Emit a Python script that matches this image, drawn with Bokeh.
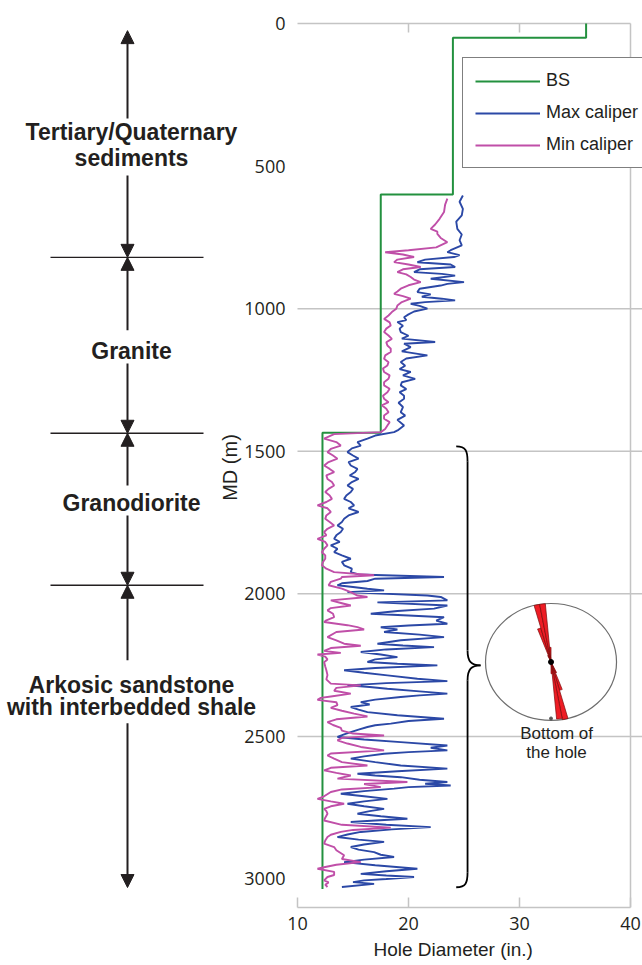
from math import sin, cos, radians, pi
from bokeh.plotting import figure
from bokeh.models import (Range1d, FixedTicker, Legend, LegendItem,
                          Arrow, NormalHead, Title)
from bokeh.core.properties import value
from bokeh.embed import file_html
from bokeh.resources import INLINE

# ---------------- data ----------------
md_ticks = [0, 500, 1000, 1500, 2000, 2500, 3000]
diam_ticks = [10, 20, 30, 40]
grid_depths = [1000, 1500, 2000, 2500]

# Bit size (step curve)
bs_depth = [0, 50, 50, 600, 600, 1435, 1435, 3035]
bs_diam = [36, 36, 24, 24, 17.5, 17.5, 12.25, 12.25]

# Max caliper
max_depth = [603, 625, 650, 673, 695, 720, 740, 760, 778, 795,
             802, 812, 819, 828, 837, 845, 854, 862, 872, 878,
             884, 895, 907, 913, 919, 930, 942, 950, 958, 965,
             971, 977, 983, 990, 1000, 1010, 1020, 1030, 1040, 1047,
             1060, 1070, 1082, 1095, 1105, 1117, 1123, 1135, 1150, 1164,
             1175, 1187, 1200, 1212, 1222, 1234, 1246, 1258, 1269, 1282,
             1293, 1305, 1316, 1330, 1345, 1363, 1375, 1390, 1410, 1425,
             1433, 1445, 1456, 1468, 1480, 1490, 1503, 1515, 1526, 1538,
             1550, 1562, 1573, 1585, 1597, 1608, 1620, 1632, 1643, 1655,
             1667, 1678, 1690, 1700, 1713, 1725, 1737, 1748, 1760, 1772,
             1783, 1795, 1807, 1818, 1830, 1842, 1854, 1865, 1877, 1888,
             1900, 1912, 1924, 1932, 1941, 1947, 1955, 1963, 1970, 1976,
             1982, 1988, 1994, 2006, 2011, 2023, 2030, 2041, 2052, 2060,
             2070, 2076, 2082, 2094, 2105, 2111, 2117, 2125, 2134, 2143,
             2152, 2163, 2175, 2181, 2187, 2195, 2204, 2213, 2222, 2230,
             2239, 2245, 2251, 2260, 2268, 2277, 2286, 2298, 2306, 2313,
             2321, 2327, 2333, 2342, 2350, 2356, 2362, 2371, 2380, 2388,
             2397, 2406, 2415, 2426, 2438, 2446, 2455, 2461, 2467, 2476,
             2485, 2493, 2502, 2511, 2520, 2532, 2540, 2549, 2555, 2561,
             2570, 2578, 2590, 2602, 2613, 2622, 2631, 2637, 2643, 2652,
             2660, 2666, 2672, 2678, 2683, 2692, 2701, 2710, 2719, 2728,
             2736, 2745, 2754, 2762, 2771, 2780, 2789, 2795, 2800, 2810,
             2818, 2826, 2835, 2844, 2853, 2862, 2870, 2879, 2888, 2897,
             2906, 2915, 2923, 2932, 2941, 2952, 2964, 2973, 2982, 2988,
             2993, 3000, 3005, 3011, 3017, 3028]
max_diam = [24.9, 24.6, 24.9, 24.8, 24.3, 24.4, 24.8, 24.6, 24.8, 23.8,
            23.5, 24.6, 24.1, 21.5, 20.8, 23.8, 24.2, 21.0, 20.5, 23.0,
            24.2, 22.0, 25.0, 23.5, 22.9, 21.0, 20.8, 22.0, 21.2, 23.0,
            24.2, 21.5, 20.2, 21.0, 21.7, 20.5, 20.0, 19.6, 19.8, 19.0,
            19.5, 19.2, 19.3, 20.0, 19.4, 22.4, 19.6, 20.2, 19.4, 21.7,
            19.8, 19.3, 19.7, 19.2, 20.2, 19.5, 20.6, 19.4, 19.3, 19.8,
            19.2, 19.6, 19.6, 19.1, 19.5, 19.3, 19.7, 19.0, 19.6, 19.1,
            18.7, 17.0, 16.3, 15.4, 15.7, 14.9, 14.5, 15.0, 15.5, 14.6,
            14.8, 15.4, 15.2, 14.7, 15.5, 14.9, 14.5, 15.0, 14.8, 14.4,
            14.2, 14.8, 15.1, 14.6, 15.5, 14.6, 14.2, 14.0, 13.6, 14.1,
            13.9, 13.5, 13.3, 13.8, 13.0, 13.6, 13.3, 14.0, 14.8, 14.0,
            14.2, 14.9, 14.8, 15.5, 23.2, 17.0, 16.3, 14.0, 13.6, 15.0,
            16.3, 17.8, 14.5, 21.7, 22.9, 23.5, 17.2, 23.5, 22.3, 19.0,
            16.6, 20.0, 23.2, 22.5, 23.5, 20.0, 17.5, 19.0, 17.8, 21.0,
            23.2, 19.3, 17.2, 19.5, 22.3, 18.0, 15.7, 17.5, 19.0, 17.0,
            16.3, 19.0, 22.6, 17.0, 14.2, 16.0, 18.1, 20.8, 23.5, 18.0,
            14.5, 16.5, 18.1, 21.0, 23.5, 21.0, 19.3, 17.0, 15.7, 16.5,
            14.8, 15.5, 16.3, 19.0, 23.2, 20.0, 18.4, 17.0, 16.3, 15.5,
            14.8, 14.2, 13.6, 16.0, 19.3, 23.5, 22.0, 23.5, 20.0, 17.8,
            16.0, 14.8, 17.0, 19.3, 23.5, 19.0, 15.4, 17.0, 19.3, 21.0,
            23.5, 21.5, 23.8, 20.0, 18.7, 16.0, 13.9, 16.0, 18.1, 16.0,
            14.5, 16.0, 17.8, 16.5, 15.4, 17.5, 19.9, 17.0, 14.8, 18.0,
            22.0, 18.5, 15.7, 14.5, 13.6, 15.5, 17.8, 16.0, 14.8, 15.5,
            16.9, 17.5, 18.7, 16.0, 14.2, 17.0, 20.8, 18.0, 15.7, 18.0,
            20.5, 18.0, 16.0, 15.0, 16.9, 14.0]

# Min caliper
min_depth = [614, 635, 661, 685, 705, 720, 730, 738, 752, 767,
             785, 795, 802, 810, 819, 828, 837, 845, 854, 862,
             872, 880, 889, 898, 907, 918, 930, 940, 948, 956,
             965, 977, 989, 1000, 1012, 1024, 1036, 1048, 1059, 1070,
             1082, 1094, 1106, 1118, 1129, 1140, 1152, 1164, 1176, 1188,
             1199, 1210, 1222, 1234, 1246, 1258, 1269, 1281, 1293, 1305,
             1316, 1328, 1339, 1351, 1363, 1375, 1386, 1398, 1410, 1422,
             1433, 1440, 1456, 1468, 1480, 1492, 1503, 1515, 1526, 1538,
             1550, 1562, 1573, 1585, 1597, 1608, 1620, 1632, 1643, 1655,
             1667, 1678, 1690, 1700, 1713, 1725, 1737, 1748, 1760, 1772,
             1783, 1795, 1807, 1818, 1830, 1842, 1854, 1865, 1877, 1888,
             1900, 1912, 1924, 1935, 1941, 1947, 1958, 1970, 1982, 1994,
             2006, 2011, 2023, 2033, 2041, 2050, 2058, 2070, 2082, 2093,
             2099, 2110, 2117, 2125, 2134, 2152, 2163, 2175, 2182, 2190,
             2200, 2207, 2213, 2220, 2230, 2240, 2255, 2268, 2285, 2300,
             2315, 2321, 2330, 2340, 2350, 2360, 2365, 2372, 2380, 2390,
             2400, 2410, 2420, 2430, 2440, 2450, 2460, 2470, 2480, 2490,
             2497, 2505, 2514, 2525, 2537, 2549, 2560, 2567, 2578, 2590,
             2602, 2610, 2619, 2628, 2637, 2648, 2660, 2667, 2678, 2686,
             2695, 2710, 2719, 2728, 2736, 2745, 2754, 2762, 2771, 2785,
             2795, 2810, 2820, 2828, 2835, 2845, 2853, 2865, 2876, 2888,
             2899, 2917, 2930, 2941, 2950, 2958, 2964, 2975, 2986, 2993,
             3005, 3012, 3020, 3028]
min_diam = [23.5, 23.3, 23.2, 22.8, 22.4, 22.0, 22.6, 22.6, 22.9, 23.5,
            22.5, 20.0, 17.9, 19.5, 20.5, 19.0, 18.7, 20.0, 21.1, 19.5,
            19.0, 19.8, 20.2, 20.5, 21.1, 20.0, 19.3, 19.0, 18.7, 19.5,
            20.2, 19.4, 19.0, 18.9, 18.5, 18.2, 17.8, 18.3, 18.4, 18.0,
            17.8, 18.2, 18.5, 18.0, 18.1, 18.4, 18.4, 17.9, 17.8, 18.2,
            18.1, 17.7, 17.8, 18.3, 18.2, 17.8, 17.8, 18.3, 18.1, 17.7,
            17.8, 18.2, 17.6, 18.0, 18.2, 17.8, 17.8, 18.3, 18.1, 17.9,
            17.5, 13.3, 12.4, 13.5, 13.9, 13.0, 12.7, 13.2, 13.6, 12.8,
            12.4, 12.9, 13.3, 12.6, 12.7, 13.1, 13.3, 12.8, 12.5, 12.9,
            13.1, 12.6, 11.8, 12.7, 13.0, 12.6, 12.5, 12.9, 13.3, 12.7,
            12.4, 12.6, 11.8, 12.5, 12.7, 12.4, 12.2, 12.5, 12.5, 12.3,
            12.2, 12.6, 13.3, 16.9, 14.0, 13.9, 13.0, 12.8, 14.0, 14.8,
            15.4, 16.3, 13.0, 14.0, 14.8, 13.0, 12.7, 13.2, 13.3, 12.6,
            12.4, 14.5, 15.4, 16.0, 13.5, 12.7, 13.5, 14.2, 15.7, 13.0,
            12.4, 13.9, 11.8, 12.5, 12.7, 12.4, 12.5, 12.6, 12.7, 12.6,
            13.0, 15.7, 13.5, 13.3, 14.8, 13.0, 12.1, 11.8, 13.5, 13.6,
            13.0, 14.0, 15.1, 16.3, 13.5, 12.7, 13.2, 13.9, 14.0, 15.0,
            17.8, 14.0, 13.6, 14.5, 15.7, 17.8, 13.0, 12.7, 13.3, 14.0,
            16.3, 13.0, 12.4, 13.5, 14.8, 13.6, 19.9, 16.0, 17.5, 14.0,
            13.0, 12.4, 11.8, 13.0, 14.2, 13.0, 12.4, 12.6, 12.7, 12.5,
            12.4, 14.0, 18.4, 15.0, 13.9, 13.0, 12.7, 12.5, 12.4, 13.3,
            13.5, 14.2, 14.0, 15.7, 13.5, 12.5, 11.8, 13.3, 13.3, 12.7,
            12.4, 12.8, 12.5, 12.7]

# Formations (left-hand annotation)
formation_top = [25, 820, 1437, 1970]
formation_bottom = [820, 1437, 1970, 3030]
arrow_gap_top = [333, 1076, 1620, 2233]      # upper arrow stops here (above label)
arrow_gap_bottom = [533, 1192, 1725, 2454]   # lower arrow starts here (below label)
formation_text = ["Tertiary/Quaternary", "sediments", "Granite", "Granodiorite",
                  "Arkosic sandstone", "with interbedded shale"]
formation_text_md = [380, 471, 1150, 1680, 2318, 2398]
boundary_md = [820, 1437, 1970]

# Breakout rose (orientation of borehole elongation)
rose_bin_start = [335, 340, 345, 350, 355, 155, 160, 165, 170, 175]
rose_length = [0.12, 0.6, 1.0, 1.0, 0.25, 0.2, 0.5, 1.0, 0.98, 0.2]
rose_bin_width = 5

# ---------------- layout ----------------
W, H = 642, 965
BT, BB = 11, 58
TRACK_TOP, TRACK_BOTTOM = 23, 907   # pixel rows of MD 0 and MD 3100
LOG_LEFT = 297                      # pixel column of the 10-in. line
X0, X1 = 10, 40
SX = 333 / (X1 - X0)                # pixels per inch
XR0 = X0 - LOG_LEFT / SX
XR1 = X0 + (W - LOG_LEFT) / SX
Y_TOP, Y_BOT = 0, 3100
SY = (TRACK_BOTTOM - TRACK_TOP) / (Y_BOT - Y_TOP)
YR_TOP = Y_TOP - (TRACK_TOP - BT) / SY


def x_at(px):
    return X0 + (px - LOG_LEFT) / SX


def md_at(py):
    return Y_TOP + (py - TRACK_TOP) / SY


INK = "#231f20"
GRID = "#c4c4c4"
C_BS = "#23913f"
C_MAX = "#2b48a6"
C_MIN = "#c04fa8"

p = figure(width=W, height=H,
           x_range=Range1d(XR0, XR1), y_range=Range1d(Y_BOT, YR_TOP),
           min_border_left=0, min_border_right=0,
           min_border_top=BT, min_border_bottom=BB,
           output_backend="svg", toolbar_location=None)
p.outline_line_color = None
p.background_fill_color = "white"
p.border_fill_color = "white"
p.grid.visible = False

# y axis, placed at the 10-in. line of the log track
ya = p.yaxis[0]
ya.fixed_location = X0
ya.ticker = FixedTicker(ticks=md_ticks)
ya.axis_line_color = None
ya.major_tick_line_color = None
ya.minor_tick_line_color = None
ya.major_label_text_font = "Open Sans"
ya.major_label_text_font_size = "18px"
ya.major_label_text_color = INK
ya.major_label_standoff = 6

# x axis
xa = p.xaxis[0]
xa.bounds = (X0, X1)
xa.ticker = FixedTicker(ticks=diam_ticks)
xa.axis_line_color = GRID
xa.axis_line_width = 1.5
xa.major_tick_in = 10
xa.major_tick_out = 0
xa.major_tick_line_color = GRID
xa.major_tick_line_width = 1.5
xa.minor_tick_line_color = None
xa.major_label_text_font = "Open Sans"
xa.major_label_text_font_size = "18px"
xa.major_label_text_color = INK
xa.major_label_standoff = 9

# x-axis title, under the log track
p.add_layout(Title(text="Hole Diameter (in.)", align="left", offset=373, standoff=8,
                   text_font="Liberation Sans", text_font_size="19px",
                   text_font_style="normal", text_color=INK), "below")
# y-axis title, beside the depth labels
p.text(x=[x_at(229)], y=[md_at(467)], text=["MD (m)"], angle=pi / 2,
       text_font=value("Liberation Sans"), text_font_size="20px", text_color=INK,
       text_align="center", text_baseline="middle")

# horizontal grid lines across the log track
p.segment(x0=[X0] * len(grid_depths), y0=grid_depths,
          x1=[XR1] * len(grid_depths), y1=grid_depths,
          line_color=GRID, line_width=1.5)
# frame: top line with inward ticks, right line
p.segment(x0=[X0, X1], y0=[Y_TOP, Y_TOP], x1=[X1, X1], y1=[Y_TOP, Y_BOT],
          line_color=GRID, line_width=1.5)
inner = diam_ticks[1:-1]
p.segment(x0=inner, y0=[Y_TOP] * len(inner), x1=inner, y1=[Y_TOP + 9 / SY] * len(inner),
          line_color=GRID, line_width=1.5)

# curves
r_bs = p.line(bs_diam, bs_depth, line_color=C_BS, line_width=2)
r_max = p.line(max_diam, max_depth, line_color=C_MAX, line_width=1.9)
r_min = p.line(min_diam, min_depth, line_color=C_MIN, line_width=1.9)

legend = Legend(items=[LegendItem(label="BS", renderers=[r_bs]),
                       LegendItem(label="Max caliper", renderers=[r_max]),
                       LegendItem(label="Min caliper", renderers=[r_min])],
                location=(462, TRACK_BOTTOM - 168))
legend.label_text_font = "Liberation Sans"
legend.label_text_font_size = "18px"
legend.label_text_color = INK
legend.glyph_width = 65
legend.glyph_height = 20
legend.label_height = 20
legend.label_standoff = 6
legend.padding = 12
legend.spacing = 11
legend.margin = 0
legend.border_line_color = "black"
legend.border_line_width = 1.2
legend.background_fill_color = "white"
legend.background_fill_alpha = 1
p.add_layout(legend)

# brace (interval of breakouts)
brace_x, brace_end_x, brace_tip_x = 25.32, 24.3, 26.49
brace_top, brace_bottom, brace_tip = 1483, 3029, 2251
hook = 15 / SY
p.bezier(x0=[brace_end_x, brace_x, brace_tip_x, brace_x],
         y0=[brace_top, brace_tip - hook, brace_tip, brace_bottom - hook],
         x1=[brace_x, brace_tip_x, brace_x, brace_end_x],
         y1=[brace_top + hook, brace_tip, brace_tip + hook, brace_bottom],
         cx0=[brace_x - 0.15, brace_x, brace_x + 0.35, brace_x],
         cy0=[brace_top, brace_tip - 0.25 * hook, brace_tip, brace_bottom - 0.3 * hook],
         cx1=[brace_x, brace_x + 0.35, brace_x, brace_x - 0.15],
         cy1=[brace_top + 0.3 * hook, brace_tip, brace_tip + 0.25 * hook, brace_bottom],
         line_color="black", line_width=1.8)
p.segment(x0=[brace_x, brace_x], y0=[brace_top + hook, brace_tip + hook],
          x1=[brace_x, brace_x], y1=[brace_tip - hook, brace_bottom - hook],
          line_color="black", line_width=1.8)

# rose diagram
rose_cx, rose_cy = 32.84, 2239
RX, RY = 65.5, 58.5
p.ellipse(x=[rose_cx], y=[rose_cy], width=2 * RX, height=2 * RY,
          width_units="screen", height_units="screen",
          fill_color="white", line_color="#6d6d6d", line_width=1.2)
pxs, pys = [], []
for a0, L in zip(rose_bin_start, rose_length):
    angs = [a0 + rose_bin_width * k / 6 for k in range(7)]
    pxs.append([rose_cx] + [rose_cx + L * RX * sin(radians(a)) / SX for a in angs])
    pys.append([rose_cy] + [rose_cy - L * RY * cos(radians(a)) / SY for a in angs])
p.patches(pxs, pys, fill_color="#ee1c24", line_color="#7a0a0a", line_width=0.7)
p.scatter([rose_cx], [rose_cy], size=5, color="black")
p.scatter([rose_cx], [rose_cy + (RY - 2) / SY], size=3, color="#555555")
p.text(x=[rose_cx + 0.5, rose_cx + 0.5], y=[2490, 2556], text=["Bottom of", "the hole"],
       text_font=value("Liberation Sans"), text_font_size="17px", text_color=INK,
       text_align="center", text_baseline="middle")

# formation annotation, left of the log track
AX = x_at(127)
head = dict(size=13, fill_color=INK, line_color=INK)
for t, b, gt, gb in zip(formation_top, formation_bottom, arrow_gap_top, arrow_gap_bottom):
    p.add_layout(Arrow(end=NormalHead(**head), x_start=AX, y_start=gt, x_end=AX, y_end=t,
                       line_color=INK, line_width=2))
    p.add_layout(Arrow(end=NormalHead(**head), x_start=AX, y_start=gb, x_end=AX, y_end=b,
                       line_color=INK, line_width=2))
p.segment(x0=[x_at(50)] * len(boundary_md), y0=boundary_md,
          x1=[x_at(203)] * len(boundary_md), y1=boundary_md,
          line_color=INK, line_width=1.4)
p.text(x=[x_at(131)] * len(formation_text), y=formation_text_md, text=formation_text,
       text_font=value("Liberation Sans"), text_font_style="bold",
       text_font_size="23px", text_color=INK,
       text_align="center", text_baseline="middle")

open("out.html", "w").write(file_html(p, INLINE))
